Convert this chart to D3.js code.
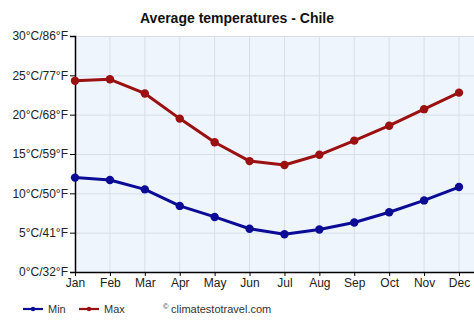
<!DOCTYPE html>
<html><head><meta charset="utf-8">
<script src="https://cdn.jsdelivr.net/npm/d3@7"></script>
<style>body{margin:0;background:#fff;}svg{display:block;font-family:"Liberation Sans",Arial,sans-serif;}</style>
</head><body>
<script>
const months = ["Jan","Feb","Mar","Apr","May","Jun","Jul","Aug","Sep","Oct","Nov","Dec"];
const minTemps = [12.0,11.7,10.5,8.4,7.0,5.5,4.8,5.4,6.3,7.6,9.1,10.8];
const maxTemps = [24.3,24.5,22.7,19.5,16.5,14.1,13.6,14.9,16.7,18.6,20.7,22.8];
const yTicks = [0,5,10,15,20,25,30];
const yTickLabels = ["0°C/32°F","5°C/41°F","10°C/50°F","15°C/59°F","20°C/68°F","25°C/77°F","30°C/86°F"];
const seriesNames = ["Min","Max"];
const colors = ["#0b0b96","#9b1010"];

(function(){
const W=474,H=331;
const svg=d3.select("body").append("svg").attr("width",W).attr("height",H);
const pLeft=75, pRight=459, pTop=36, pBottom=272, plotRight=474;
const x=d3.scalePoint().domain(months).range([pLeft,pRight]);
const y=d3.scaleLinear().domain([0,30]).range([pBottom,pTop]);

svg.append("rect").attr("x",pLeft).attr("y",pTop).attr("width",plotRight-pLeft).attr("height",pBottom-pTop).attr("fill","#eef5fd");
// grid
svg.append("g").selectAll("line").data(yTicks).join("line")
  .attr("x1",pLeft).attr("x2",plotRight).attr("y1",d=>y(d)+0.5).attr("y2",d=>y(d)+0.5)
  .attr("stroke","#d9dee6").attr("stroke-width",1);
svg.append("g").selectAll("line").data(months.slice(1)).join("line")
  .attr("x1",d=>x(d)).attr("x2",d=>x(d)).attr("y1",pTop).attr("y2",pBottom)
  .attr("stroke","#d9dee6").attr("stroke-width",1);

// axes
const yAxis=d3.axisLeft(y).tickValues(yTicks).tickFormat((d,i)=>yTickLabels[i]).tickSize(5).tickPadding(2);
const gy=svg.append("g").attr("transform",`translate(${pLeft},0)`).call(yAxis);
gy.select(".domain").attr("stroke","#000").attr("stroke-width",1.5);
gy.selectAll(".tick line").attr("stroke","#000");
gy.selectAll("text").attr("font-size",12).attr("fill","#222").attr("font-family","Liberation Sans, Arial, sans-serif");

const xAxis=d3.axisBottom(x).tickSize(4).tickPadding(2);
const gx=svg.append("g").attr("transform",`translate(0,${pBottom})`).call(xAxis);
gx.select(".domain").attr("d",`M${pLeft},0.5H${plotRight}`).attr("stroke","#000").attr("stroke-width",1.5);
gx.selectAll(".tick line").attr("stroke","#000");
gx.selectAll("text").attr("font-size",12).attr("fill","#222").attr("font-family","Liberation Sans, Arial, sans-serif");

// title
svg.append("text").attr("x",237).attr("y",23).attr("text-anchor","middle")
  .attr("font-size",14).attr("font-weight","bold").attr("fill","#111").text("Average temperatures - Chile");

// series
const line=d3.line().x((d,i)=>x(months[i])).y(d=>y(d));
[minTemps,maxTemps].forEach((s,k)=>{
  svg.append("path").datum(s).attr("d",line).attr("fill","none").attr("stroke",colors[k]).attr("stroke-width",3).attr("stroke-linejoin","round");
  svg.append("g").selectAll("circle").data(s).join("circle")
    .attr("cx",(d,i)=>x(months[i])).attr("cy",d=>y(d)).attr("r",4.2).attr("fill",colors[k]);
});

// legend
const lg=svg.append("g");
const lx=[23,79];
seriesNames.forEach((n,k)=>{
  lg.append("line").attr("x1",lx[k]).attr("x2",lx[k]+20).attr("y1",309).attr("y2",309).attr("stroke",colors[k]).attr("stroke-width",2.2);
  lg.append("circle").attr("cx",lx[k]+10).attr("cy",309).attr("r",2.2).attr("fill",colors[k]);
  lg.append("text").attr("x",lx[k]+25).attr("y",313).attr("font-size",11).attr("fill","#333").text(n);
});
lg.append("text").attr("x",163).attr("y",309).attr("font-size",7.5).attr("fill","#333").text("©");
lg.append("text").attr("x",171).attr("y",313).attr("font-size",11).attr("fill","#333").text("climatestotravel.com");
})();
</script>
</body></html>
